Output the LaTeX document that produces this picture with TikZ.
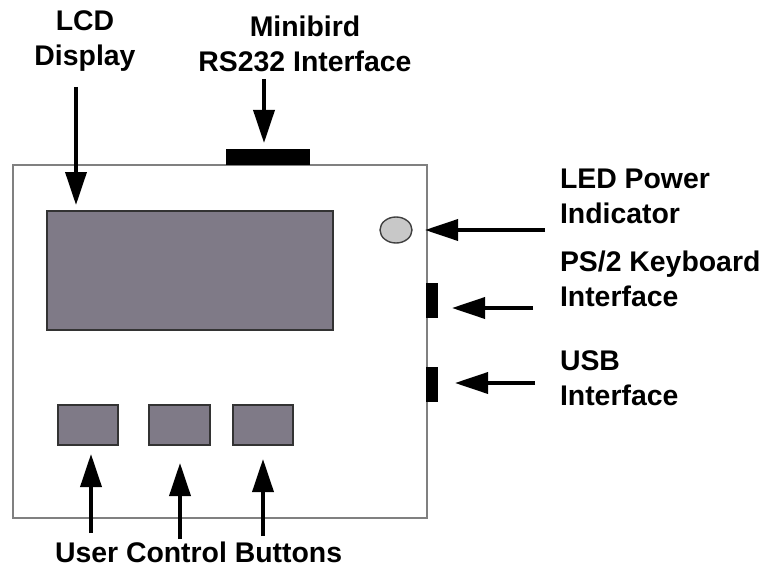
\documentclass[tikz,border=0pt]{standalone}
\usepackage{fontspec}
\setmainfont{Liberation Sans}
\usetikzlibrary{arrows.meta,shapes.geometric}

\definecolor{panelgray}{HTML}{7F7A87}
\definecolor{ledgray}{HTML}{C8C8C8}
\definecolor{casegray}{HTML}{808080}

\tikzset{
  label text/.style={inner sep=0pt, outer sep=0pt, font=\fontsize{28.4}{35}\selectfont\bfseries},
  panel/.style={draw=black!80, line width=1.6pt, fill=panelgray, inner sep=0pt, outer sep=0pt},
  port/.style={fill=black, inner sep=0pt, outer sep=0pt},
  pointer/.style={line width=3.6pt, -{Triangle[length=33pt,width=21pt]}},
}

\begin{document}
\begin{tikzpicture}[x=1pt, y=-1pt]
  \useasboundingbox (0,0) rectangle (762,567);

  % device case
  \node[draw=casegray, line width=2pt, inner sep=0pt, outer sep=0pt,
        minimum width=414pt, minimum height=353pt] (case) at (220,341.5) {};

  % LCD screen and buttons
  \node[panel, minimum width=286pt, minimum height=119pt] (lcd) at (190,270.5) {};
  \node[panel, minimum width=60pt, minimum height=40pt] (btnA) at (88,425) {};
  \node[panel, minimum width=61pt, minimum height=40pt] (btnB) at (179.5,425) {};
  \node[panel, minimum width=60pt, minimum height=40pt] (btnC) at (263,425) {};

  % LED and ports
  \node[ellipse, draw=black!75, line width=1.4pt, fill=ledgray,
        minimum width=32pt, minimum height=26pt, inner sep=0pt, outer sep=0pt] (led) at (396,230) {};
  \node[port, minimum width=84pt, minimum height=16pt] (rs232) at (268,157) {};
  \node[port, minimum width=12pt, minimum height=35pt] (ps2) at (432,300.5) {};
  \node[port, minimum width=12pt, minimum height=35pt] (usb) at (432,384.5) {};

  % labels
  \node[label text, align=center, anchor=north] (lcdlabel) at (85,11) {LCD\\Display};
  \node[label text, align=center, anchor=north] (rslabel) at (305,16) {Minibird\\RS232 Interface};
  \node[label text, align=left, anchor=north west] (ledlabel) at (560,169) {LED Power\\Indicator};
  \node[label text, align=left, anchor=north west] (ps2label) at (560,251) {PS/2 Keyboard\\Interface};
  \node[label text, align=left, anchor=north west] (usblabel) at (560,351) {USB\\Interface};
  \node[label text, anchor=base west] (btnlabel) at (55,562) {User Control Buttons};

  % arrow tails
  \coordinate (lcdtail) at (76,87);
  \coordinate (rstail) at (264,79);
  \coordinate (ledtail) at (545,230);
  \coordinate (ps2tail) at (533,308);
  \coordinate (usbtail) at (535,383);
  \coordinate (btnAtail) at (91,533);
  \coordinate (btnBtail) at (180,539);
  \coordinate (btnCtail) at (263,536);

  % pointers
  \draw[pointer, shorten >=6pt] (lcdtail) -- (lcdtail |- lcd.north);
  \draw[pointer, shorten >=6pt] (rstail) -- (rstail |- rs232.north);
  \draw[pointer, shorten >=13pt] (ledtail) -- (led.east);
  \draw[pointer, shorten >=14pt] (ps2tail) -- (ps2tail -| ps2.east);
  \draw[pointer, shorten >=17pt] (usbtail) -- (usbtail -| usb.east);
  \draw[pointer, shorten >=9pt] (btnAtail) -- (btnAtail |- btnA.south);
  \draw[pointer, shorten >=18pt] (btnBtail) -- (btnBtail |- btnB.south);
  \draw[pointer, shorten >=14pt] (btnCtail) -- (btnCtail |- btnC.south);
\end{tikzpicture}
\end{document}
